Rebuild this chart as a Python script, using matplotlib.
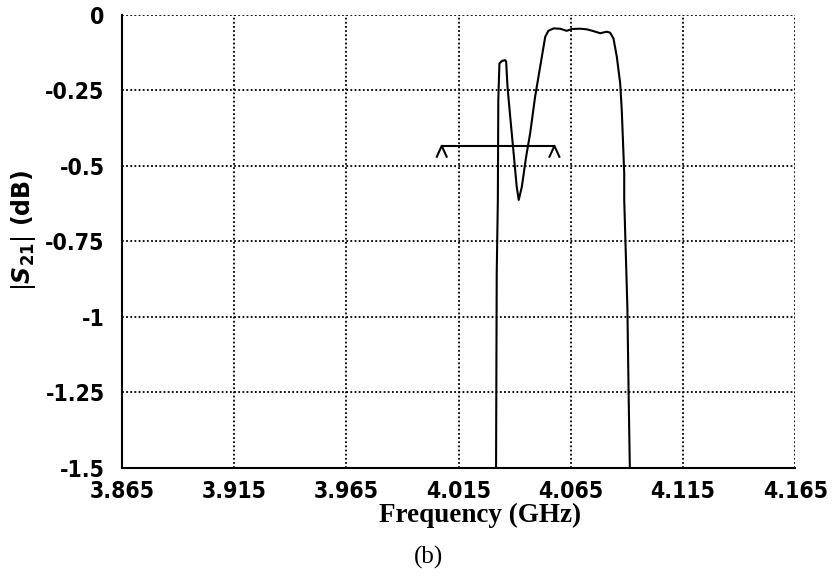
import matplotlib
matplotlib.use("Agg")
import matplotlib.pyplot as plt

# Frequency sweep (GHz) and |S21| (dB)
freq = [4.0317, 4.0320, 4.0325, 4.0327, 4.0332, 4.0343, 4.0357, 4.0362,
        4.0368, 4.0380, 4.0394, 4.0409, 4.0418, 4.0432, 4.0451, 4.0469,
        4.0491, 4.0506, 4.0521, 4.0536, 4.0550, 4.0573, 4.0602, 4.0632,
        4.0655, 4.0691, 4.0721, 4.0751, 4.0781, 4.0810, 4.0825, 4.0840,
        4.0855, 4.0870, 4.0877, 4.0884, 4.0888, 4.0888, 4.0902, 4.0908,
        4.0913]
s21 = [-1.5, -0.855, -0.613, -0.282, -0.161, -0.153, -0.150, -0.155,
       -0.238, -0.337, -0.448, -0.569, -0.613, -0.569, -0.470, -0.392,
       -0.271, -0.205, -0.139, -0.073, -0.053, -0.045, -0.046, -0.053,
       -0.047, -0.046, -0.048, -0.054, -0.061, -0.056, -0.059, -0.078,
       -0.139, -0.227, -0.315, -0.448, -0.525, -0.613, -0.967, -1.275,
       -1.5]

# bandwidth marker
bw_left = 4.0075
bw_right = 4.0577
bw_level = -0.434
caret_w = 0.0022
caret_h = 0.036

xticks = [3.865, 3.915, 3.965, 4.015, 4.065, 4.115, 4.165]
xticklabels = ["3.865", "3.915", "3.965", "4.015", "4.065", "4.115", "4.165"]
yticks = [0, -0.25, -0.5, -0.75, -1, -1.25, -1.5]
yticklabels = ["0", "-0.25", "-0.5", "-0.75", "-1", "-1.25", "-1.5"]

TICK_FONT = dict(family="DejaVu Sans", weight="heavy", stretch="condensed", size=16.5)

fig = plt.figure(figsize=(8.33, 5.81), dpi=100)
ax = fig.add_axes([0.1463, 0.1948, 0.8084, 0.7797])

ax.plot(freq, s21, color="black", linewidth=1.5)

ax.plot([bw_left, bw_right], [bw_level, bw_level], color="black", linewidth=1.5)
for xc in (bw_left, bw_right):
    ax.plot([xc - caret_w, xc, xc + caret_w],
            [bw_level - caret_h, bw_level, bw_level - caret_h],
            color="black", linewidth=1.5)

ax.set_xlim(3.865, 4.165)
ax.set_ylim(-1.5, 0)
ax.set_xticks(xticks)
ax.set_xticklabels(xticklabels, **TICK_FONT)
ax.set_yticks(yticks)
ax.set_yticklabels(yticklabels, **TICK_FONT)
ax.tick_params(axis="x", length=0, pad=9)
ax.tick_params(axis="y", length=0, pad=12.5)

ax.grid(True, color="black", linestyle=(0, (1, 1.3)), linewidth=1.3)
for side in ("top", "right"):
    ax.spines[side].set_visible(False)
for side in ("left", "bottom"):
    ax.spines[side].set_linewidth(1.5)

ax.set_xlabel("Frequency (GHz)", family="Liberation Serif", weight="bold",
              size=19.5)
ax.xaxis.set_label_coords(0.532, -0.077)
ax.set_ylabel(r"$|\mathbfit{S}_{\mathbf{21}}|$ (dB)", family="DejaVu Sans",
              weight="bold", size=17)
ax.yaxis.set_label_coords(-0.1246, 0.525)
fig.text(0.514, 0.040, "(b)", family="Liberation Serif", size=18,
         ha="center", va="center")

fig.savefig("out.png", dpi=100)
